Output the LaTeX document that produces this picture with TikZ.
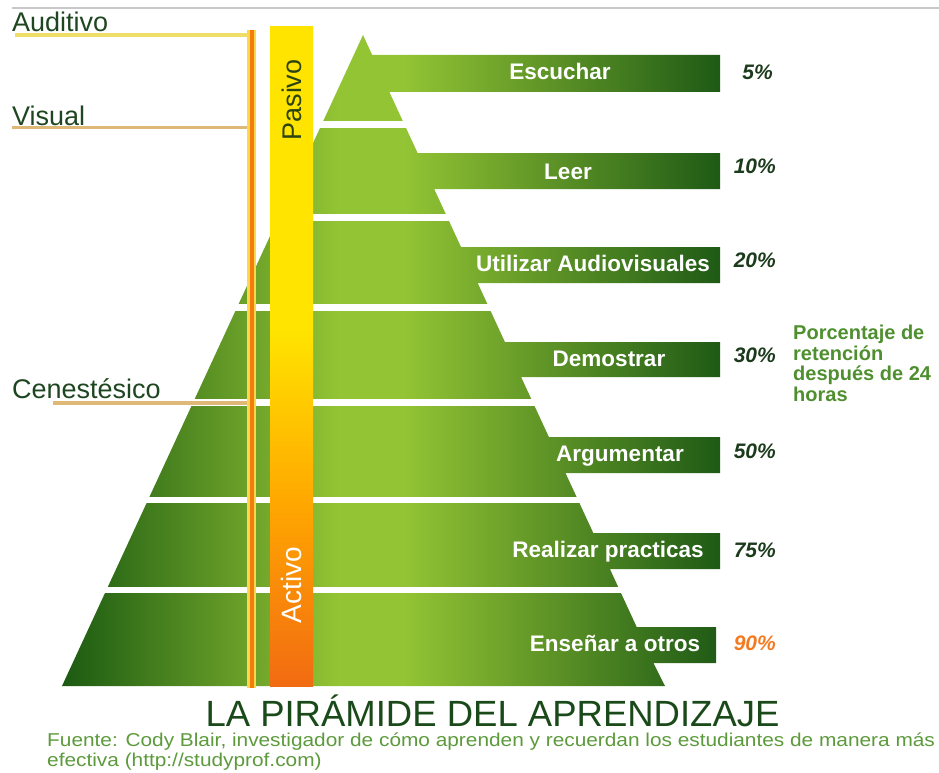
\documentclass[tikz,border=0pt]{standalone}
\usepackage{fontspec}
\setmainfont{Liberation Sans}
\newfontfamily\fuentefont[FakeStretch=1.12]{Liberation Sans}
\usetikzlibrary{positioning,calc}
\definecolor{pyrdark}{HTML}{1B5A12}
\definecolor{pyrlight}{HTML}{93C434}
\definecolor{pyrdeep}{HTML}{1F5A16}
\definecolor{colorange}{HTML}{F26B12}
\definecolor{colamber}{HTML}{FFA800}
\definecolor{colyellow}{HTML}{FFE400}
\definecolor{lineyellow}{HTML}{FFD84A}
\definecolor{lineorange}{HTML}{F57A10}
\definecolor{audline}{HTML}{EEDD66}
\definecolor{tanline}{HTML}{DDB877}
\definecolor{rulegray}{HTML}{C8C8C8}
\definecolor{sensecol}{HTML}{1E4620}
\definecolor{pasivocol}{HTML}{2E4410}
\definecolor{pctcol}{HTML}{1C3A1C}
\definecolor{pctorange}{HTML}{F47A20}
\definecolor{retcol}{HTML}{4F8F2F}
\definecolor{titlecol}{HTML}{1A4A1A}
\definecolor{fuentecol}{HTML}{5C9A3C}
\pgfdeclarehorizontalshading{pyrshade}{100bp}{color(0bp)=(pyrdark); color(25bp)=(pyrdark); color(46bp)=(pyrlight); color(51bp)=(pyrlight); color(75bp)=(pyrdeep); color(100bp)=(pyrdeep)}
\pgfdeclareverticalshading{colshade}{100bp}{color(0bp)=(colorange); color(25bp)=(colorange); color(39bp)=(colamber); color(52bp)=(colyellow); color(100bp)=(colyellow)}
\begin{document}
\begin{tikzpicture}[x=1pt,y=-1pt,
    sentido/.style={anchor=base west,inner sep=0,text=sensecol,font=\fontsize{27}{30}\selectfont},
    enlace/.style={line width=3.5pt},
    nivel/.style={anchor=base,inner sep=0,text=white,font=\fontsize{22.5}{26}\selectfont\bfseries},
    pct/.style={anchor=base east,inner sep=0,text=pctcol,font=\fontsize{21}{24}\selectfont\bfseries\itshape},
    fuente/.style={anchor=base west,inner sep=0,text=fuentecol,font=\fontsize{18.6}{20}\fuentefont}]
\useasboundingbox (0,0) rectangle (939,773);
\draw[line width=2.5pt,rulegray] (12,8) -- (939,8);

% pyramid and bars
\coordinate (apex) at (363,35);
\coordinate (bl) at (62,686);
\coordinate (br) at (665,686);
\path[shading=pyrshade] (apex) -- (372.2,55) -- (720,55) -- (720,92) -- (389.4,92)
  -- (417.6,153) -- (720,153) -- (720,189) -- (434.2,189)
  -- (461,247) -- (720,247) -- (720,283) -- (477.7,283)
  -- (504.9,342) -- (720,342) -- (720,377) -- (521.1,377)
  -- (548.9,437) -- (720,437) -- (720,473) -- (565.5,473)
  -- (593.3,533) -- (720,533) -- (720,569) -- (609.9,569)
  -- (636.7,627) -- (716,627) -- (716,663) -- (653.4,663)
  -- (br) -- (bl) -- cycle;
% gaps
\fill[white] (55,121.5) rectangle (680,128);
\fill[white] (55,213.5) rectangle (680,220.5);
\fill[white] (55,304) rectangle (680,311);
\fill[white] (55,399) rectangle (680,406);
\fill[white] (55,496.5) rectangle (680,503);
\fill[white] (55,587) rectangle (680,593);

% pasivo / activo
\path[shading=colshade] (270,27) rectangle (313,686);
\node[rotate=90,text=pasivocol,font=\fontsize{27}{30}\selectfont] (pasivo) at (292,100) {Pasivo};
\node[rotate=90,text=white,font=\fontsize{28}{30}\selectfont] (activo) at (291,585) {Activo};

% senses
\coordinate (vtop) at (251.5,30);
\coordinate (vbot) at (251.5,688);
\node[sentido] (auditivo) at (12,32) {Auditivo};
\node[sentido] (visual) at (12,125) {Visual};
\node[sentido] (cenes) at (12,398) {Cenestésico};
\coordinate (aud) at (15,35);
\coordinate (vis) at (12,127.5);
\coordinate (cen) at (53,403);
\draw[enlace,audline] (aud) -- (aud -| vtop);
\draw[enlace,tanline] (vis) -- (vis -| vtop);
\draw[enlace,tanline] (cen) -- (cen -| vtop);
\draw[line width=9pt,lineyellow] (vtop) -- (vbot);
\draw[line width=4pt,lineorange] (vtop) -- (vbot);

% levels
\node[nivel] (escuchar) at (560,80) {Escuchar};
\node[nivel] (leer) at (568,179) {Leer};
\node[nivel] (audiov) at (593,271.5) {Utilizar Audiovisuales};
\node[nivel] (demostrar) at (609,366) {Demostrar};
\node[nivel] (argumentar) at (620,461) {Argumentar};
\node[nivel] (practicas) at (608,557) {Realizar practicas};
\node[nivel] (ensenar) at (615,651) {Enseñar a otros};

\node[pct] (p5) at (773,80) {5\%};
\node[pct] (p10) at (776,173) {10\%};
\node[pct] (p20) at (776,267) {20\%};
\node[pct] (p30) at (776,362) {30\%};
\node[pct] (p50) at (776,458) {50\%};
\node[pct] (p75) at (776,557) {75\%};
\node[pct,text=pctorange] (p90) at (776,650) {90\%};
\node[anchor=north west,inner sep=0,align=left,text=retcol,font=\fontsize{20}{20.5}\selectfont\bfseries] (retencion) at (793,325) {Porcentaje de\\retención\\después de 24\\horas};

% title
\node[anchor=base,inner sep=0,text=titlecol,font=\fontsize{36.5}{40}\selectfont] (titulo) at (492.5,726) {LA PIRÁMIDE DEL APRENDIZAJE};
\node[fuente] (fuente1) at (47,746.5) {Fuente: Cody Blair, investigador de cómo aprenden y recuerdan los estudiantes de manera más};
\node[fuente] (fuente2) at (47,766) {efectiva (http://studyprof.com)};
\end{tikzpicture}
\end{document}
